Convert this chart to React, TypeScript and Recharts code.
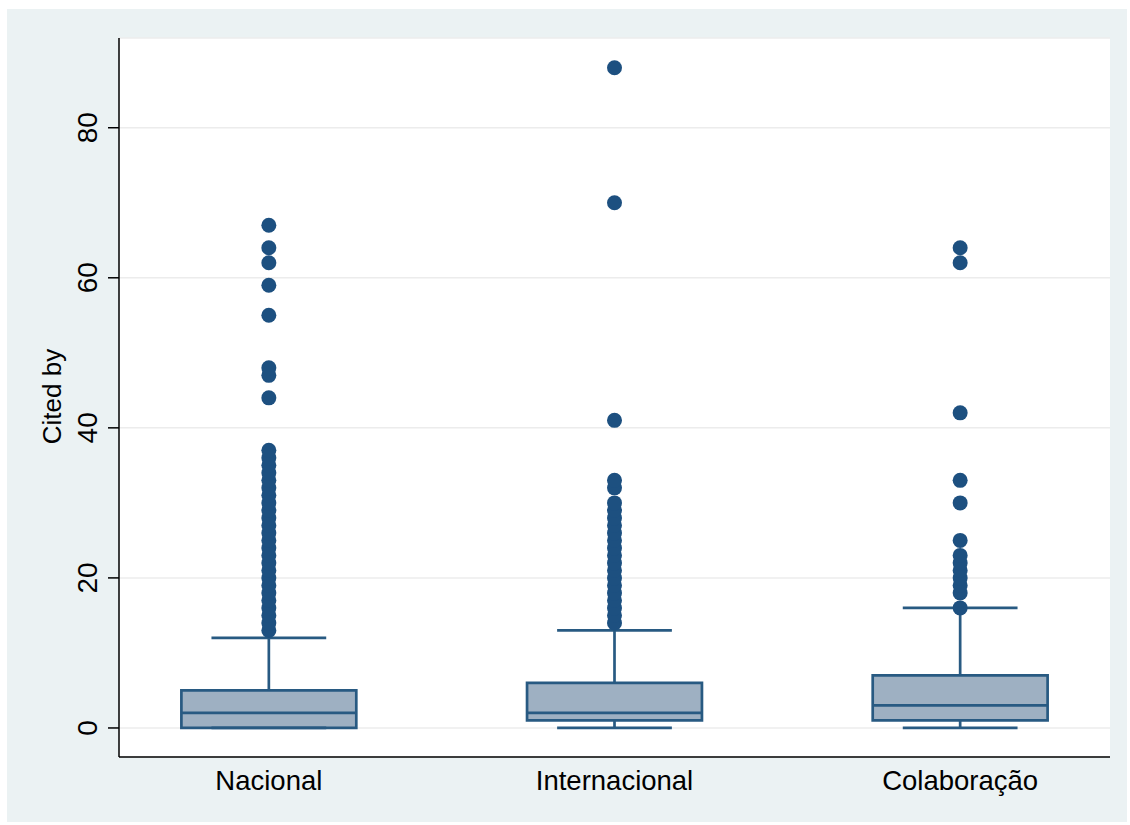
import React from 'react';
import {
  ComposedChart,
  Scatter,
  XAxis,
  YAxis,
  CartesianGrid,
  ReferenceArea,
  ReferenceLine,
} from 'recharts';

// groups shown on the x axis
const categories = ['Nacional', 'Internacional', 'Colaboração'];

// box summary per group (Cited by)
const lowerWhisker = [0, 0, 0];
const q1 = [0, 1, 1];
const median = [2, 2, 3];
const q3 = [5, 6, 7];
const upperWhisker = [12, 13, 16];

// outside values per group
const nacionalOutliers = [
  13, 14, 15, 16, 17, 18, 19, 20, 21, 22, 23, 24, 25, 26, 27, 28, 29, 30, 31, 32, 33, 34, 35, 36, 37,
  44, 47, 48, 55, 59, 62, 64, 67,
];
const internacionalOutliers = [
  14, 15, 16, 17, 18, 19, 20, 21, 22, 23, 24, 25, 26, 27, 28, 29, 30, 32, 33, 41, 70, 88,
];
const colaboracaoOutliers = [16, 18, 19, 20, 21, 22, 23, 25, 30, 33, 42, 62, 64];

const yTicks = [0, 20, 40, 60, 80];

const NAVY = '#1d5080';
const BOX_FILL = '#9eb0c2';
const BOX_LINE = '#285a82';
const BOX_HALF = 0.253;
const CAP_HALF = 0.166;
const LW = 2.7;

const outliers = [nacionalOutliers, internacionalOutliers, colaboracaoOutliers].flatMap((vals, i) =>
  vals.map((v) => ({ x: i + 1, y: v }))
);

const FONT = '"Liberation Sans", Arial, Helvetica, sans-serif';

const YTick = (props: any) => {
  const { x, y, payload } = props;
  const bx = x - 9;
  return (
    <text
      x={bx}
      y={y}
      transform={`rotate(-90 ${bx} ${y})`}
      textAnchor="middle"
      fontSize={28}
      fontFamily={FONT}
      fill="#000"
    >
      {payload.value}
    </text>
  );
};

const XTick = (props: any) => {
  const { x, y, payload } = props;
  return (
    <text x={x} y={y} dy={25} textAnchor="middle" fontSize={27.5} fontFamily={FONT} fill="#000">
      {categories[payload.value - 1]}
    </text>
  );
};

const dot = (p: any) => <circle cx={p.cx} cy={p.cy} r={7.5} fill={NAVY} />;

export default function App() {
  return (
    <div style={{ position: 'absolute', left: 0, top: 0, width: 1130, height: 825, background: '#fff' }}>
      <div
        style={{ position: 'absolute', left: 7, top: 9, width: 1120, height: 813, background: '#ebf2f3' }}
      />
      <div style={{ position: 'absolute', left: 0, top: 0 }}>
        <ComposedChart width={1130} height={825} margin={{ top: 38, right: 20, bottom: 28, left: 59 }}>
          <CartesianGrid vertical={false} stroke="#ececec" strokeWidth={1.5} fill="#fff" />
          <XAxis
            type="number"
            dataKey="x"
            domain={[0.5665, 3.4335]}
            ticks={[1, 2, 3]}
            allowDataOverflow
            tickLine={false}
            height={40}
            axisLine={{ stroke: '#000', strokeWidth: 1.5 }}
            tick={<XTick />}
          />
          <YAxis
            type="number"
            dataKey="y"
            domain={[-3.87, 91.96]}
            ticks={yTicks}
            allowDataOverflow
            width={60}
            tickSize={11}
            tickMargin={2}
            tickLine={{ stroke: '#000', strokeWidth: 1.5 }}
            axisLine={{ stroke: '#000', strokeWidth: 1.5 }}
            tick={<YTick />}
            label={(p: any) => {
              const vb = p.viewBox;
              const cx = vb.x - 7;
              const cy = vb.y + vb.height / 2 - 1;
              return (
                <text
                  x={cx}
                  y={cy}
                  transform={`rotate(-90 ${cx} ${cy})`}
                  textAnchor="middle"
                  dominantBaseline="central"
                  fontSize={26}
                  fontFamily={FONT}
                  fill="#000"
                >
                  Cited by
                </text>
              );
            }}
          />
          {categories.map((c, i) => {
            const cx = i + 1;
            return (
              <React.Fragment key={c}>
                <ReferenceLine
                  segment={[{ x: cx, y: q3[i] }, { x: cx, y: upperWhisker[i] }]}
                  stroke={BOX_LINE}
                  strokeWidth={LW}
                />
                <ReferenceLine
                  segment={[{ x: cx, y: lowerWhisker[i] }, { x: cx, y: q1[i] }]}
                  stroke={BOX_LINE}
                  strokeWidth={LW}
                />
                <ReferenceLine
                  segment={[{ x: cx - CAP_HALF, y: upperWhisker[i] }, { x: cx + CAP_HALF, y: upperWhisker[i] }]}
                  stroke={BOX_LINE}
                  strokeWidth={LW}
                />
                <ReferenceLine
                  segment={[{ x: cx - CAP_HALF, y: lowerWhisker[i] }, { x: cx + CAP_HALF, y: lowerWhisker[i] }]}
                  stroke={BOX_LINE}
                  strokeWidth={LW}
                />
                <ReferenceArea
                  x1={cx - BOX_HALF}
                  x2={cx + BOX_HALF}
                  y1={q1[i]}
                  y2={q3[i]}
                  fill={BOX_FILL}
                  fillOpacity={1}
                  stroke={BOX_LINE}
                  strokeWidth={LW}
                />
                <ReferenceLine
                  segment={[{ x: cx - BOX_HALF, y: median[i] }, { x: cx + BOX_HALF, y: median[i] }]}
                  stroke={BOX_LINE}
                  strokeWidth={LW}
                />
              </React.Fragment>
            );
          })}
          <Scatter data={outliers} dataKey="y" shape={dot} isAnimationActive={false} />
        </ComposedChart>
      </div>
    </div>
  );
}
